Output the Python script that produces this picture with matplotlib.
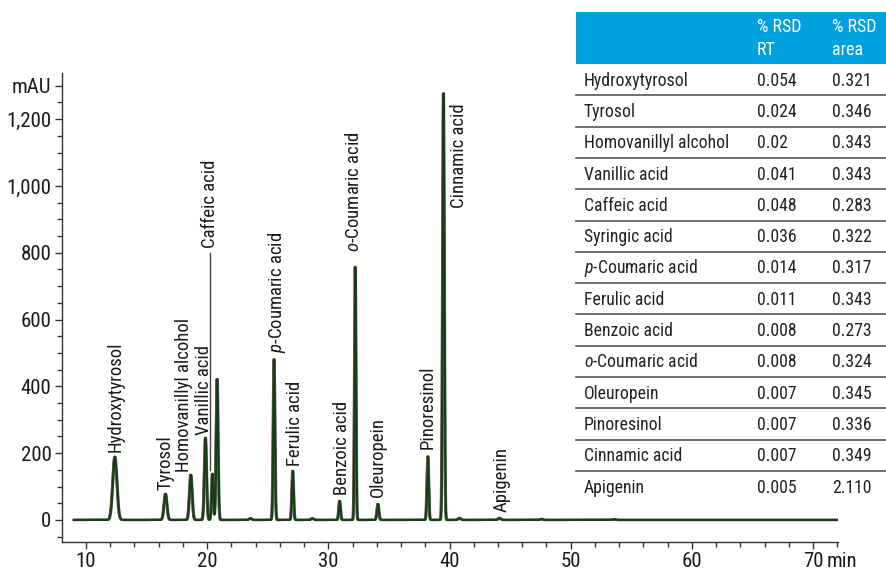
import numpy as np
import matplotlib.pyplot as plt
from matplotlib.patches import Rectangle
from matplotlib.ticker import FixedLocator, MultipleLocator

plt.rcParams['font.family'] = ['Roboto Condensed', 'DejaVu Sans']
plt.rcParams['mathtext.fontset'] = 'custom'
plt.rcParams['mathtext.it'] = 'Roboto Condensed:italic'
plt.rcParams['mathtext.rm'] = 'Roboto Condensed'

# Peaks: retention time (min), height (mAU), width (min)
peak_rt = [12.39, 16.57, 18.66, 19.87, 20.44, 20.83, 23.58, 25.53, 27.07,
           28.69, 30.94, 32.23, 34.10, 38.22, 39.51, 40.83, 44.13, 47.6, 53.6]
peak_height = [189, 78, 135, 246, 138, 422, 5, 481, 147,
               5, 57, 758, 48, 190, 1277, 6, 6, 3, 2]
peak_width = [0.17, 0.12, 0.11, 0.09, 0.07, 0.08, 0.1, 0.07, 0.07,
              0.1, 0.07, 0.06, 0.08, 0.07, 0.07, 0.1, 0.1, 0.1, 0.1]

# Replicate injections overlaid (colour, retention shift)
run_colors = ['#8e2f8e', '#8a6d2c', '#2e9a52', '#1b3b1b']
run_shift = [-0.05, -0.03, 0.03, 0.0]

# Peak labels and where they sit (rt, mAU)
labels = ['Hydroxytyrosol', 'Tyrosol', 'Homovanillyl alcohol', 'Vanillic acid',
          'Caffeic acid', '$\\it{p}$-Coumaric acid', 'Ferulic acid', 'Benzoic acid',
          '$\\it{o}$-Coumaric acid', 'Oleuropein', 'Pinoresinol', 'Cinnamic acid',
          'Apigenin']
label_x = [12.45, 16.6, 18.1, 19.7, 20.25, 25.75, 27.25, 31.1, 32.1, 34.1, 38.2, 40.75, 44.3]
label_y = [204, 90, 144, 254, 814, 500, 162, 75, 802, 69, 213, 934, 24]

# Precision table
compounds = ['Hydroxytyrosol', 'Tyrosol', 'Homovanillyl alcohol', 'Vanillic acid',
             'Caffeic acid', 'Syringic acid', '$\\it{p}$-Coumaric acid', 'Ferulic acid',
             'Benzoic acid', '$\\it{o}$-Coumaric acid', 'Oleuropein', 'Pinoresinol',
             'Cinnamic acid', 'Apigenin']
rsd_rt = ['0.054', '0.024', '0.02', '0.041', '0.048', '0.036', '0.014', '0.011',
          '0.008', '0.008', '0.007', '0.007', '0.007', '0.005']
rsd_area = ['0.321', '0.346', '0.343', '0.343', '0.283', '0.322', '0.317', '0.343',
            '0.273', '0.324', '0.345', '0.336', '0.349', '2.110']

fig = plt.figure(figsize=(8.86, 5.71), dpi=100)
ax = fig.add_axes([62 / 886, 29 / 571, 776 / 886, 469 / 571])

t = np.linspace(9.0, 72.06, 8000)
for color, shift in zip(run_colors, run_shift):
    signal = np.zeros_like(t)
    for rt, h, w in zip(peak_rt, peak_height, peak_width):
        signal += h * np.exp(-0.5 * ((t - rt - shift) / w) ** 2)
    ax.plot(t, signal, color=color, lw=1.6)

for text, x, y in zip(labels, label_x, label_y):
    ax.text(x, y, text, rotation=90, ha='center', va='bottom', fontsize=13.5, color='#1a1a1a')
# leader line from the Caffeic acid label to its peak
ax.plot([20.22, 20.22], [150, 800], color='#444444', lw=1)

ax.set_xlim(8.02, 72.06)
ax.set_ylim(-66, 1338)
ax.spines['top'].set_visible(False)
ax.spines['right'].set_visible(False)
for s in ['left', 'bottom']:
    ax.spines[s].set_color('#333333')
    ax.spines[s].set_linewidth(1)

ax.xaxis.set_major_locator(FixedLocator([10, 20, 30, 40, 50, 60, 70]))
ax.xaxis.set_minor_locator(MultipleLocator(2))
ax.set_xticklabels(['10', '20', '30', '40', '50', '60', '70'])
ax.yaxis.set_major_locator(FixedLocator([0, 200, 400, 600, 800, 1000, 1200, 1300]))
ax.yaxis.set_minor_locator(MultipleLocator(50))
ax.set_yticklabels(['0', '200', '400', '600', '800', '1,000', '1,200', 'mAU'])
ax.tick_params(which='major', length=5, width=1, color='#333333', labelsize=15,
               labelcolor='#1a1a1a', pad=2.5)
ax.tick_params(which='minor', length=3.5, width=1, color='#333333')
ax.annotate('min', xy=(70, 0), xycoords=('data', 'axes fraction'),
            xytext=(10, -7.5), textcoords='offset points', ha='left', va='top',
            fontsize=15, color='#1a1a1a')

# Table drawn in pixel coordinates
tax = fig.add_axes([0, 0, 1, 1])
tax.set_xlim(0, 886)
tax.set_ylim(571, 0)
tax.axis('off')
tax.add_patch(Rectangle((576, 12), 310, 52, color='#00a0dc', lw=0))
tax.add_patch(Rectangle((576, 64), 310, 440, color='white', lw=0))
tax.text(757, 27, '% RSD', color='white', fontsize=13, va='center')
tax.text(757, 50, 'RT', color='white', fontsize=13, va='center')
tax.text(832, 27, '% RSD', color='white', fontsize=13, va='center')
tax.text(832, 50, 'area', color='white', fontsize=13, va='center')
row_h = 31.3
for i, (name, a, b) in enumerate(zip(compounds, rsd_rt, rsd_area)):
    yc = 64 + row_h * (i + 0.5) + 1
    tax.text(584, yc, name, fontsize=12.7, va='center', color='#222222')
    tax.text(757, yc, a, fontsize=12.7, va='center', color='#222222')
    tax.text(832, yc, b, fontsize=12.7, va='center', color='#222222')
    if i < len(compounds) - 1:
        yl = 64 + row_h * (i + 1)
        tax.plot([576, 886], [yl, yl], color='#555555', lw=1.2)

fig.savefig('out.png', dpi=100)
